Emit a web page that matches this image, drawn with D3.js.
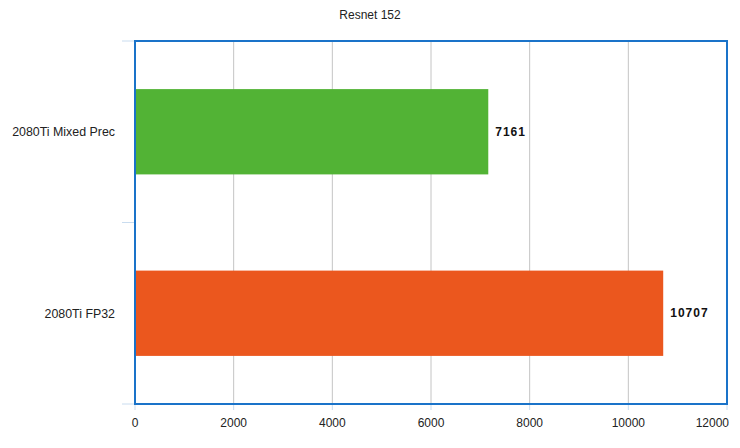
<!DOCTYPE html>
<html lang="en">
<head>
<meta charset="UTF-8">
<title>Resnet 152</title>
<script src="https://cdn.jsdelivr.net/npm/d3@7"></script>
<style>
  body { margin: 0; background: #fff; }
  text { font-family: "Liberation Sans", Arial, sans-serif; }
</style>
</head>
<body>
<svg id="main" width="740" height="448"></svg>
<script>
const categories = ['2080Ti Mixed Prec', '2080Ti FP32'];
const values = [7161, 10707];
const barColors = ['#52b335', '#eb571e'];
const xTicks = [0, 2000, 4000, 6000, 8000, 10000, 12000];
const title = 'Resnet 152';

const svg = d3.select('svg#main');
const m = {left: 135, right: 13, top: 41, bottom: 44};
const width = 740 - m.left - m.right;
const height = 448 - m.top - m.bottom;

const x = d3.scaleLinear().domain([0, 12000]).range([0, width]);
const y = d3.scaleBand().domain(categories).range([0, height])
    .paddingInner(0.53).paddingOuter(0.265);

svg.append('text')
    .attr('x', 370).attr('y', 19)
    .attr('text-anchor', 'middle')
    .attr('font-size', 12)
    .attr('fill', '#222')
    .text(title);

const g = svg.append('g').attr('transform', `translate(${m.left},${m.top})`);

// vertical gridlines
g.selectAll('.grid').data(xTicks.slice(1, -1)).enter().append('line')
    .attr('x1', d => x(d)).attr('x2', d => x(d))
    .attr('y1', 0).attr('y2', height)
    .attr('stroke', '#c4c4c4').attr('stroke-width', 1);

// left axis ticks (category boundaries)
const yTicks = [0, height / 2, height];
g.selectAll('.ytick').data(yTicks).enter().append('line')
    .attr('x1', -13).attr('x2', 0)
    .attr('y1', d => d).attr('y2', d => d)
    .attr('stroke', '#c9dcef').attr('stroke-width', 1);

// bottom axis ticks
g.selectAll('.xtick').data(xTicks).enter().append('line')
    .attr('x1', d => x(d)).attr('x2', d => x(d))
    .attr('y1', height).attr('y2', height + 6)
    .attr('stroke', '#c9dcef').attr('stroke-width', 1);

// bars
g.selectAll('.bar').data(values).enter().append('rect')
    .attr('x', 0)
    .attr('y', (d, i) => y(categories[i]))
    .attr('width', d => x(d))
    .attr('height', y.bandwidth())
    .attr('fill', (d, i) => barColors[i]);

// value labels
g.selectAll('.val').data(values).enter().append('text')
    .attr('x', d => x(d) + 7)
    .attr('y', (d, i) => y(categories[i]) + y.bandwidth() / 2)
    .attr('dy', '0.35em')
    .attr('font-size', 12)
    .attr('font-weight', 'bold')
    .attr('letter-spacing', 1)
    .attr('fill', '#111')
    .text(d => d);

// category labels
g.selectAll('.cat').data(categories).enter().append('text')
    .attr('x', -20)
    .attr('y', d => y(d) + y.bandwidth() / 2)
    .attr('dy', '0.35em')
    .attr('text-anchor', 'end')
    .attr('font-size', 12.4)
    .attr('fill', '#222')
    .text(d => d);

// x tick labels (last one kept inside the page)
const lastTick = xTicks[xTicks.length - 1];
g.selectAll('.xlab').data(xTicks).enter().append('text')
    .attr('x', d => d === lastTick ? x(d) + 2 : x(d))
    .attr('y', height + 19)
    .attr('dy', '0.35em')
    .attr('text-anchor', d => d === lastTick ? 'end' : 'middle')
    .attr('font-size', 12)
    .attr('fill', '#222')
    .text(d => d);

// plot frame
g.append('rect')
    .attr('x', 0).attr('y', 0)
    .attr('width', width).attr('height', height)
    .attr('fill', 'none')
    .attr('stroke', '#1a73c9').attr('stroke-width', 2);
</script>
</body>
</html>
